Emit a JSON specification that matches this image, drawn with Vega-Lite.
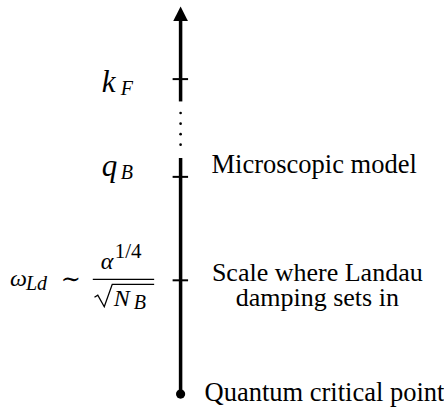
{
  "$schema": "https://vega.github.io/schema/vega-lite/v6.json",
  "width": 444,
  "height": 407,
  "padding": 0,
  "autosize": {"type": "fit", "contains": "padding"},
  "background": "white",
  "config": {"view": {"stroke": null}, "axis": {"disable": true}},
  "datasets": {
    "segments": [
      {"x": 181, "y": 21, "y2": 101.7},
      {"x": 181, "y": 158.3, "y2": 395}
    ],
    "ticks": [
      {"label": "kF", "x": 173, "x2": 188.5, "y": 79.3},
      {"label": "qB", "x": 173, "x2": 188.5, "y": 177.3},
      {"label": "omega", "x": 173, "x2": 188.5, "y": 281}
    ],
    "dots": [
      {"x": 181, "y": 113.3},
      {"x": 181, "y": 124},
      {"x": 181, "y": 134.5},
      {"x": 181, "y": 145}
    ],
    "arrow": [{"x": 181, "y": 13.8}],
    "origin": [{"x": 181, "y": 395}],
    "captions": [
      {"text": "Microscopic model", "x": 212, "y": 173},
      {"text": "Quantum critical point", "x": 205, "y": 402}
    ],
    "captionsCentered": [
      {"text": "Scale where Landau\ndamping sets in", "x": 318, "y": 281.5}
    ],
    "mathLarge": [
      {"text": "k", "x": 102, "y": 92},
      {"text": "q", "x": 102, "y": 176}
    ],
    "mathMain": [
      {"text": "ω", "x": 10, "y": 287},
      {"text": "α", "x": 101, "y": 270},
      {"text": "N", "x": 114, "y": 307}
    ],
    "mathSub": [
      {"text": "F", "x": 121, "y": 95},
      {"text": "B", "x": 121, "y": 179},
      {"text": "Ld", "x": 26, "y": 291},
      {"text": "B", "x": 134, "y": 310}
    ],
    "mathUpright": [
      {"text": "1/4", "x": 115, "y": 259}
    ],
    "sim": [{"text": "∼", "x": 71, "y": 281}],
    "fracBar": [{"x": 93, "x2": 154.5, "y": 280}],
    "radical": [
      {"i": 0, "x": 94.7, "y": 298},
      {"i": 1, "x": 98, "y": 296},
      {"i": 2, "x": 104.5, "y": 307.5},
      {"i": 3, "x": 112.5, "y": 285},
      {"i": 4, "x": 154.5, "y": 285}
    ]
  },
  "layer": [
    {
      "data": {"name": "segments"},
      "mark": {"type": "rule", "strokeWidth": 3.5, "color": "black", "strokeCap": "butt"},
      "encoding": {
        "x": {"field": "x", "type": "quantitative", "scale": {"domain": [0, 444], "nice": false, "zero": false}, "axis": null},
        "y": {"field": "y", "type": "quantitative", "scale": {"domain": [0, 407], "reverse": true, "nice": false, "zero": false}, "axis": null},
        "y2": {"field": "y2"}
      }
    },
    {
      "data": {"name": "ticks"},
      "mark": {"type": "rule", "strokeWidth": 2, "color": "black"},
      "encoding": {
        "x": {"field": "x", "type": "quantitative"},
        "x2": {"field": "x2"},
        "y": {"field": "y", "type": "quantitative"}
      }
    },
    {
      "data": {"name": "dots"},
      "mark": {"type": "point", "shape": "circle", "filled": true, "size": 7, "color": "black", "opacity": 1},
      "encoding": {
        "x": {"field": "x", "type": "quantitative"},
        "y": {"field": "y", "type": "quantitative"}
      }
    },
    {
      "data": {"name": "arrow"},
      "mark": {"type": "point", "shape": "M0,-1L1,1L-1,1Z", "filled": true, "size": 215, "color": "black", "opacity": 1},
      "encoding": {
        "x": {"field": "x", "type": "quantitative"},
        "y": {"field": "y", "type": "quantitative"}
      }
    },
    {
      "data": {"name": "origin"},
      "mark": {"type": "point", "shape": "circle", "filled": true, "size": 85, "color": "black", "opacity": 1},
      "encoding": {
        "x": {"field": "x", "type": "quantitative"},
        "y": {"field": "y", "type": "quantitative"}
      }
    },
    {
      "data": {"name": "captions"},
      "mark": {"type": "text", "font": "Liberation Serif", "fontSize": 26.5, "align": "left", "baseline": "alphabetic", "color": "black"},
      "encoding": {
        "x": {"field": "x", "type": "quantitative"},
        "y": {"field": "y", "type": "quantitative"},
        "text": {"field": "text"}
      }
    },
    {
      "data": {"name": "captionsCentered"},
      "mark": {"type": "text", "font": "Liberation Serif", "fontSize": 26, "lineHeight": 25.5, "lineBreak": "\n", "align": "center", "baseline": "alphabetic", "color": "black"},
      "encoding": {
        "x": {"field": "x", "type": "quantitative"},
        "y": {"field": "y", "type": "quantitative"},
        "text": {"field": "text"}
      }
    },
    {
      "data": {"name": "mathLarge"},
      "mark": {"type": "text", "font": "Liberation Serif", "fontStyle": "italic", "fontSize": 31, "align": "left", "baseline": "alphabetic", "color": "black"},
      "encoding": {
        "x": {"field": "x", "type": "quantitative"},
        "y": {"field": "y", "type": "quantitative"},
        "text": {"field": "text"}
      }
    },
    {
      "data": {"name": "mathMain"},
      "mark": {"type": "text", "font": "Liberation Serif", "fontStyle": "italic", "fontSize": 24, "align": "left", "baseline": "alphabetic", "color": "black"},
      "encoding": {
        "x": {"field": "x", "type": "quantitative"},
        "y": {"field": "y", "type": "quantitative"},
        "text": {"field": "text"}
      }
    },
    {
      "data": {"name": "mathSub"},
      "mark": {"type": "text", "font": "Liberation Serif", "fontStyle": "italic", "fontSize": 20, "align": "left", "baseline": "alphabetic", "color": "black"},
      "encoding": {
        "x": {"field": "x", "type": "quantitative"},
        "y": {"field": "y", "type": "quantitative"},
        "text": {"field": "text"}
      }
    },
    {
      "data": {"name": "mathUpright"},
      "mark": {"type": "text", "font": "Liberation Serif", "fontSize": 21, "align": "left", "baseline": "alphabetic", "color": "black"},
      "encoding": {
        "x": {"field": "x", "type": "quantitative"},
        "y": {"field": "y", "type": "quantitative"},
        "text": {"field": "text"}
      }
    },
    {
      "data": {"name": "sim"},
      "mark": {"type": "text", "font": "DejaVu Serif", "fontSize": 24, "align": "center", "baseline": "middle", "color": "black"},
      "encoding": {
        "x": {"field": "x", "type": "quantitative"},
        "y": {"field": "y", "type": "quantitative"},
        "text": {"field": "text"}
      }
    },
    {
      "data": {"name": "fracBar"},
      "mark": {"type": "rule", "strokeWidth": 1.3, "color": "black"},
      "encoding": {
        "x": {"field": "x", "type": "quantitative"},
        "x2": {"field": "x2"},
        "y": {"field": "y", "type": "quantitative"}
      }
    },
    {
      "data": {"name": "radical"},
      "mark": {"type": "line", "strokeWidth": 1.3, "color": "black", "strokeJoin": "miter"},
      "encoding": {
        "x": {"field": "x", "type": "quantitative"},
        "y": {"field": "y", "type": "quantitative"},
        "order": {"field": "i", "type": "quantitative"}
      }
    }
  ]
}
